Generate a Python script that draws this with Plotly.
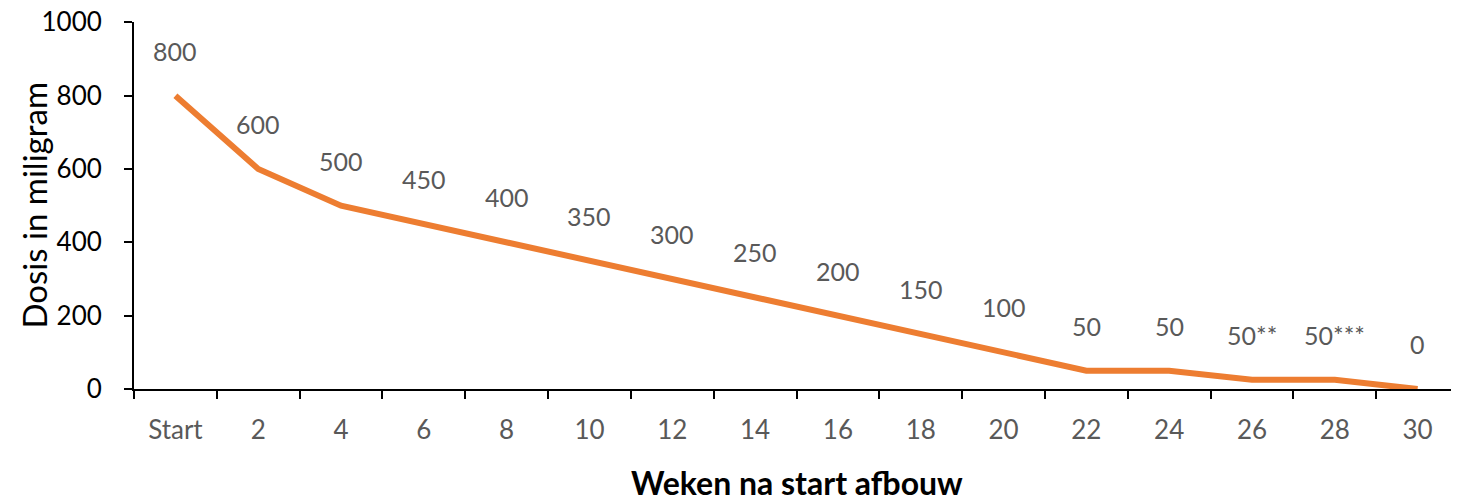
import plotly.graph_objects as go

categories = ["Start", "2", "4", "6", "8", "10", "12", "14", "16", "18", "20", "22", "24", "26", "28", "30"]
dose_mg = [800, 600, 500, 450, 400, 350, 300, 250, 200, 150, 100, 50, 50, 25, 25, 0]
dose_labels = ["800", "600", "500", "450", "400", "350", "300", "250", "200", "150", "100", "50", "50", "50**", "50***", "0"]
y_ticks = [0, 200, 400, 600, 800, 1000]

FONT = "Lato, Carlito, Calibri, sans-serif"
GREY = "#595959"

# page body has an 8px default margin; compensate
W, H = 1451, 496
L, T, B = 126, 14, 115
plot_w = W - L
plot_h = H - T - B

fig = go.Figure()
fig.add_trace(go.Scatter(
    x=categories, y=dose_mg, mode="lines",
    line=dict(color="#ED7D31", width=6),
    hoverinfo="skip", showlegend=False,
))

for i, (v, t) in enumerate(zip(dose_mg, dose_labels)):
    fig.add_annotation(x=i, y=v, text=t, showarrow=False, yshift=45,
                       font=dict(family=FONT, size=25, color=GREY))

fig.add_annotation(xref="paper", yref="paper", x=0.5, y=-93 / plot_h, yanchor="middle",
                   text="<b>Weken na start afbouw</b>", showarrow=False,
                   font=dict(family=FONT, size=32, color="black"))
fig.add_annotation(xref="paper", yref="paper", x=-(134 - 33) / plot_w,
                   y=0.5, xanchor="center", yanchor="middle", textangle=-90,
                   text="Dosis in miligram", showarrow=False,
                   font=dict(family=FONT, size=33, color="black"))

fig.update_layout(
    width=W, height=H,
    margin=dict(l=L, r=0, t=T, b=B, autoexpand=False),
    paper_bgcolor="white", plot_bgcolor="white",
    font=dict(family=FONT),
)
fig.update_xaxes(
    type="category", range=[-0.5, 15.5], automargin=False,
    showline=True, linecolor="black", linewidth=2,
    ticks="outside", tickson="boundaries", ticklen=8, tickwidth=2, tickcolor="black",
    tickfont=dict(family=FONT, size=26, color=GREY), ticklabelstandoff=17,
    showgrid=False, zeroline=False,
)
fig.update_yaxes(
    range=[0, 1001], tickvals=y_ticks, ticklabeloverflow="allow", automargin=False,
    showline=True, linecolor="black", linewidth=2,
    ticks="outside", ticklen=8, tickwidth=2, tickcolor="black",
    tickfont=dict(family=FONT, size=26, color="black"), ticklabelstandoff=17,
    showgrid=False, zeroline=False,
)

fig.write_html("out.html")
